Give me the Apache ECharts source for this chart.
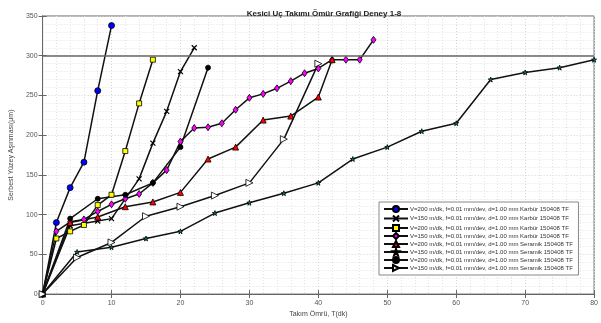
<!DOCTYPE html>
<html>
<head>
<meta charset="utf-8">
<script src="https://cdn.jsdelivr.net/npm/echarts@6/dist/echarts.min.js"></script>
<style>html,body{margin:0;padding:0;background:#fff}#c{width:601px;height:323px}</style>
</head>
<body>
<div id="c"></div>
<script>
const titleText = 'Kesici Uç Takımı Ömür Grafiği Deney 1-8';
const xName = 'Takım Ömrü, T(dk)';
const yName = 'Serbest Yüzey Aşınması(μm)';
const limitValue = 300;

const names = [
  'V=200 m/dk, f=0.01 mm/dev, d=1.00 mm Karbür 150408 TF',
  'V=150 m/dk, f=0.01 mm/dev, d=1.00 mm Karbür 150408 TF',
  'V=200 m/dk, f=0.01 mm/dev, d=1.00 mm Karbür 150408 TF ',
  'V=150 m/dk, f=0.01 mm/dev, d=1.00 mm Karbür 150408 TF ',
  'V=200 m/dk, f=0.01 mm/dev, d=1.00 mm Seramik 150408 TF',
  'V=150 m/dk, f=0.01 mm/dev, d=1.00 mm Seramik 150408 TF',
  'V=200 m/dk, f=0.01 mm/dev, d=1.00 mm Seramik 150408 TF ',
  'V=150 m/dk, f=0.01 mm/dev, d=1.00 mm Seramik 150408 TF '
];

const blueK200 = [[0,0],[2,90],[4,134],[6,166],[8,256],[10,338]];
const xK150 = [[0,0],[4,86],[8,92],[10,95],[14,145],[16,190],[18,230],[20,280],[22,310]];
const yellowK200 = [[0,0],[2,70],[4,79],[6,87],[8,112],[10,125],[12,180],[14,240],[16,295]];
const magentaK150 = [[0,0],[2,79],[4,91],[6,94],[8,104],[10,113],[12,120],[14,126],[16,140],[18,156],[20,192],[22,209],[24,210],[26,215],[28,232],[30,247],[32,252],[34,259],[36,268],[38,278],[40,284],[42,295],[44,295],[46,295],[48,320]];
const redS200 = [[0,0],[4,90],[8,97],[12,110],[16,116],[20,128],[24,170],[28,185],[32,219],[36,224],[40,248],[42,295]];
const tealS150 = [[0,0],[5,53],[10,59],[15,70],[20,79],[25,102],[30,115],[35,127],[40,140],[45,170],[50,185],[55,205],[60,215],[65,270],[70,279],[75,285],[80,295]];
const blackS200 = [[0,0],[4,95],[8,120],[12,125],[16,140],[20,185],[24,285]];
const whiteS150 = [[0,0],[5,46],[10,65],[15,98],[20,110],[25,124],[30,140],[35,195],[40,290]];

const xTicks = {min:0, max:80, interval:10};
const yTicks = {min:0, max:350, interval:50};

const symX = 'path://M0,0L10,10M10,0L0,10';
const symStar = 'path://M5,0L6.2,3.6L10,3.6L6.9,5.9L8.1,9.5L5,7.3L1.9,9.5L3.1,5.9L0,3.6L3.8,3.6Z';
const symRTri = 'path://M0,0L10,5L0,10Z';

function mk(name, data, symbol, size, color, extra) {
  const s = {
    name: name, type: 'line', data: data, symbol: symbol, symbolSize: size,
    showAllSymbol: true,
    lineStyle: {color: '#111', width: 1.5},
    itemStyle: {color: color, borderColor: '#000', borderWidth: 0.8},
    emphasis: {disabled: true},
    animation: false, z: 3
  };
  return Object.assign(s, extra || {});
}

const series = [
  mk(names[0], blueK200, 'circle', 6, '#0000ff'),
  mk(names[1], xK150, symX, 5, '#000', {itemStyle:{color:'none', borderColor:'#000', borderWidth:1.2}}),
  mk(names[2], yellowK200, 'rect', 5, '#ffff00'),
  mk(names[3], magentaK150, 'diamond', [5,7], '#ff00ff'),
  mk(names[4], redS200, 'triangle', 6, '#ff0000'),
  mk(names[5], tealS150, symStar, 5, '#008080'),
  mk(names[6], blackS200, 'circle', 5, '#000'),
  mk(names[7], whiteS150, symRTri, 7, '#ffffff'),
];
series[0].markLine = {
  silent: true, symbol: 'none', label: {show: false},
  lineStyle: {color: '#666', width: 1.5, type: 'solid'},
  data: [{yAxis: limitValue}]
};

const gridLine = {show: true, lineStyle: {color: '#d4d4d4', type: [1,2], width: 1}};
const minorLine = {show: true, lineStyle: {color: '#e2e2e2', type: [1,2], width: 1}};
const lblStyle = {color: '#555', fontSize: 7, fontFamily: 'Liberation Sans, Arial, sans-serif'};

const chart = echarts.init(document.getElementById('c'), null, {renderer: 'canvas'});
chart.setOption({
  animation: false,
  backgroundColor: '#fff',
  title: {
    text: titleText, left: 319, textAlign: 'center', top: 5,
    textStyle: {fontSize: 8, fontWeight: 'bold', color: '#222', fontFamily: 'Liberation Sans, Arial, sans-serif'}
  },
  grid: {left: 40, right: 3, top: 16, bottom: 26, show: true, borderColor: '#666', borderWidth: 1, backgroundColor: '#fff'},
  legend: {
    orient: 'vertical', left: 379, top: 202, itemWidth: 24, itemHeight: 7.5, itemGap: 0,
    padding: [3, 4, 3, 4],
    backgroundColor: '#fff', borderColor: '#888', borderWidth: 1,
    textStyle: {fontSize: 6, lineHeight: 7, color: '#333', fontFamily: 'Liberation Sans, Arial, sans-serif', padding: [0,0,0,-3]},
    data: names
  },
  xAxis: [{
    type: 'value', min: xTicks.min, max: xTicks.max, interval: xTicks.interval,
    name: xName, nameLocation: 'middle', nameGap: 16,
    nameTextStyle: {fontSize: 7, color: '#444', fontFamily: 'Liberation Sans, Arial, sans-serif'},
    axisLine: {show: true, lineStyle: {color: '#666'}},
    axisTick: {show: true, inside: true, length: 4, lineStyle: {color: '#666'}},
    axisLabel: Object.assign({margin: 5}, lblStyle),
    splitLine: gridLine,
    minorTick: {show: false, splitNumber: 5},
    minorSplitLine: minorLine
  }, {
    type: 'value', min: xTicks.min, max: xTicks.max, interval: xTicks.interval, position: 'top',
    axisLine: {show: true, lineStyle: {color: '#666'}},
    axisTick: {show: true, inside: true, length: 4, lineStyle: {color: '#666'}},
    axisLabel: {show: false}, splitLine: {show: false}
  }],
  yAxis: [{
    type: 'value', min: yTicks.min, max: yTicks.max, interval: yTicks.interval,
    name: yName, nameLocation: 'middle', nameGap: 23,
    nameTextStyle: {fontSize: 7, color: '#444', fontFamily: 'Liberation Sans, Arial, sans-serif'},
    axisLine: {show: true, lineStyle: {color: '#666'}},
    axisTick: {show: true, inside: true, length: 4, lineStyle: {color: '#666'}},
    axisLabel: Object.assign({margin: 5}, lblStyle),
    splitLine: gridLine,
    minorTick: {show: false, splitNumber: 5},
    minorSplitLine: minorLine
  }, {
    type: 'value', min: yTicks.min, max: yTicks.max, interval: yTicks.interval, position: 'right',
    axisLine: {show: true, lineStyle: {color: '#666'}},
    axisTick: {show: true, inside: true, length: 4, lineStyle: {color: '#666'}},
    axisLabel: {show: false}, splitLine: {show: false}
  }],
  series: series
});
</script>
</body>
</html>
